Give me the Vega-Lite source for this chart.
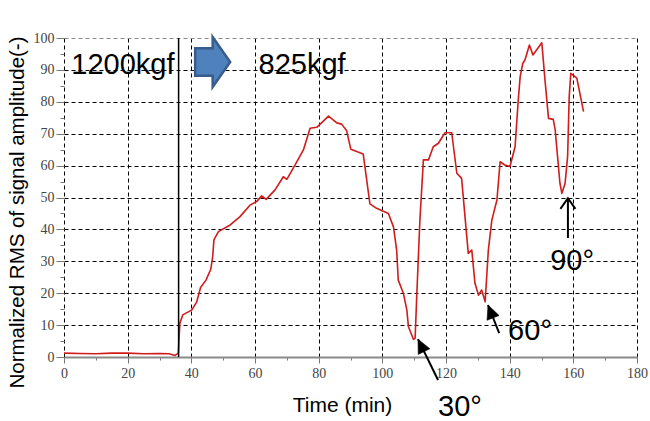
{
  "$schema": "https://vega.github.io/schema/vega-lite/v6.json",
  "width": 573,
  "height": 319,
  "autosize": {"type": "none"},
  "padding": {"left": 64, "top": 38, "right": 13, "bottom": 64},
  "background": "white",
  "config": {
    "view": {"stroke": null},
    "font": "Liberation Sans"
  },
  "datasets": {
    "rms": [
      {"t": 0, "v": 1.2}, {"t": 5, "v": 1.1}, {"t": 10, "v": 1.0}, {"t": 15, "v": 1.2},
      {"t": 20, "v": 1.2}, {"t": 25, "v": 1.0}, {"t": 30, "v": 1.1}, {"t": 33, "v": 1.0},
      {"t": 34.9, "v": 0.5}, {"t": 35.9, "v": 1.2}, {"t": 36.4, "v": 10.6}, {"t": 37.3, "v": 13.2},
      {"t": 40.1, "v": 14.7}, {"t": 41.7, "v": 17.3}, {"t": 42.9, "v": 21.8}, {"t": 44.6, "v": 24.1},
      {"t": 46.1, "v": 27.5}, {"t": 46.7, "v": 31.4}, {"t": 47.1, "v": 36.7}, {"t": 48.5, "v": 39.3},
      {"t": 52.2, "v": 41.4}, {"t": 55.3, "v": 44}, {"t": 58.4, "v": 47.6}, {"t": 60.5, "v": 48.7},
      {"t": 62.1, "v": 50.5}, {"t": 63.5, "v": 49.4}, {"t": 66.3, "v": 52.4}, {"t": 68.9, "v": 56.5},
      {"t": 70, "v": 55.7}, {"t": 72.6, "v": 60.2}, {"t": 75.2, "v": 64.9}, {"t": 77.3, "v": 71.7},
      {"t": 79.4, "v": 72}, {"t": 83.1, "v": 75.5}, {"t": 85.7, "v": 73.4}, {"t": 87.2, "v": 73},
      {"t": 88.8, "v": 70.9}, {"t": 90.1, "v": 65.1}, {"t": 94, "v": 63.6}, {"t": 96.1, "v": 48},
      {"t": 98.2, "v": 46.6}, {"t": 101.9, "v": 45}, {"t": 103.5, "v": 40.8}, {"t": 104.5, "v": 33.5},
      {"t": 105, "v": 24.1}, {"t": 106.6, "v": 20}, {"t": 107.7, "v": 14.7}, {"t": 108.2, "v": 9.5},
      {"t": 109.8, "v": 5.5}, {"t": 110.3, "v": 5.9}, {"t": 110.8, "v": 18.9}, {"t": 111.8, "v": 42.9},
      {"t": 112.9, "v": 61.8}, {"t": 114.5, "v": 61.8}, {"t": 116, "v": 65.9}, {"t": 117.6, "v": 67},
      {"t": 119.7, "v": 70.3}, {"t": 121.8, "v": 70.3}, {"t": 123.4, "v": 57.6}, {"t": 124.9, "v": 56},
      {"t": 127, "v": 32.5}, {"t": 128.1, "v": 33.5}, {"t": 129.1, "v": 23.1}, {"t": 130.2, "v": 19.4},
      {"t": 131.2, "v": 21}, {"t": 132.3, "v": 17.3}, {"t": 133.3, "v": 33.5}, {"t": 134.4, "v": 42.9},
      {"t": 136, "v": 49.2}, {"t": 137, "v": 61.2}, {"t": 138.5, "v": 60.2}, {"t": 140.1, "v": 59.7},
      {"t": 141.7, "v": 65.9}, {"t": 142.7, "v": 80.6}, {"t": 143.3, "v": 87.9}, {"t": 144.1, "v": 92},
      {"t": 144.8, "v": 93.1}, {"t": 146.2, "v": 97.8}, {"t": 147.3, "v": 94.7}, {"t": 150.1, "v": 98.5},
      {"t": 151.1, "v": 86.8}, {"t": 152.2, "v": 74.8}, {"t": 153.7, "v": 74.5}, {"t": 154.3, "v": 71.2},
      {"t": 155.8, "v": 54.4}, {"t": 156.4, "v": 51.3}, {"t": 157.4, "v": 54.4}, {"t": 158.2, "v": 62.8},
      {"t": 158.7, "v": 81.6}, {"t": 159.2, "v": 88.9}, {"t": 161.1, "v": 87.4}, {"t": 163.2, "v": 76.9}
    ],
    "loadChange": [{"t": 36, "v": 0, "v2": 100}],
    "loadLabels": [
      {"t": 18.5, "v": 91.6, "label": "1200kgf"},
      {"t": 74.8, "v": 91.6, "label": "825kgf"}
    ],
    "loadArrow": [{"t": 46.7, "v": 92.5}],
    "angleArrows": [
      {"angle": "30°", "t": 117.5, "v": -7.2, "t2": 111.2, "v2": 5.6, "dir": 334, "tl": 124.4, "vl": -15.6},
      {"angle": "60°", "t": 136.7, "v": 7.5, "t2": 133.2, "v2": 16.3, "dir": 338.6, "tl": 146.4, "vl": 8.1},
      {"angle": "90°", "t": 158.3, "v": 37.3, "t2": 158.3, "v2": 49.8, "dir": 0, "tl": 159.6, "vl": 30.1}
    ]
  },
  "layer": [
    {
      "data": {"name": "rms"},
      "mark": {"type": "line", "color": "#d01c1c", "strokeWidth": 1.6, "strokeJoin": "round"},
      "encoding": {
        "x": {
          "field": "t", "type": "quantitative",
          "scale": {"domain": [0, 180], "nice": false, "zero": false},
          "axis": {
            "title": "Time (min)",
            "titleFont": "Liberation Sans", "titleFontSize": 21, "titleFontWeight": "normal", "titleColor": "#000",
            "titlePadding": 14, "titleX": 278,
            "values": [0, 10, 20, 30, 40, 50, 60, 70, 80, 90, 100, 110, 120, 130, 140, 150, 160, 170, 180],
            "tickCount": 100,
            "labelExpr": "datum.value % 20 === 0 ? datum.label : ''",
            "labelOverlap": false,
            "labelFont": "Liberation Serif", "labelFontSize": 14, "labelColor": "#444", "labelPadding": 3,
            "labelFlush": false,
            "domain": true, "domainColor": "#8a8a8a", "domainWidth": 2,
            "ticks": true, "tickColor": "#777",
            "tickSize": {"condition": {"test": "datum.value % 20 === 0", "value": 6}, "value": 3},
            "grid": true, "gridColor": "#000", "gridDash": [4, 3], "gridWidth": 1,
            "gridOpacity": {"condition": {"test": "datum.value % 20 === 0", "value": 1}, "value": 0}
          }
        },
        "y": {
          "field": "v", "type": "quantitative",
          "scale": {"domain": [0, 100], "nice": false},
          "axis": {
            "title": "Normalized RMS of signal amplitude(-)",
            "titleFont": "Liberation Sans", "titleFontSize": 20.5, "titleFontWeight": "normal", "titleColor": "#000",
            "titlePadding": 6, "titleY": 174,
            "values": [0, 5, 10, 15, 20, 25, 30, 35, 40, 45, 50, 55, 60, 65, 70, 75, 80, 85, 90, 95, 100],
            "tickCount": 100,
            "labelExpr": "datum.value % 10 === 0 ? datum.label : ''",
            "labelOverlap": false,
            "labelFont": "Liberation Serif", "labelFontSize": 14, "labelColor": "#444", "labelPadding": 2,
            "labelFlush": false,
            "domain": false,
            "ticks": true, "tickColor": "#777",
            "tickSize": {"condition": {"test": "datum.value % 10 === 0", "value": 8}, "value": 4},
            "grid": true, "gridDash": [4, 3], "gridWidth": 1,
            "gridColor": {"condition": {"test": "datum.value === 100", "value": "#888"}, "value": "#000"},
            "gridOpacity": {"condition": {"test": "datum.value % 10 === 0", "value": 1}, "value": 0}
          }
        }
      }
    },
    {
      "data": {"name": "loadChange"},
      "mark": {"type": "rule", "color": "#000", "strokeWidth": 1.5},
      "encoding": {
        "x": {"field": "t", "type": "quantitative"},
        "y": {"field": "v", "type": "quantitative"},
        "y2": {"field": "v2"}
      }
    },
    {
      "data": {"name": "loadLabels"},
      "mark": {"type": "text", "font": "Liberation Sans", "fontSize": 29, "color": "#000", "align": "center", "baseline": "middle"},
      "encoding": {
        "x": {"field": "t", "type": "quantitative"},
        "y": {"field": "v", "type": "quantitative"},
        "text": {"field": "label"}
      }
    },
    {
      "data": {"name": "loadArrow"},
      "mark": {
        "type": "point", "filled": true, "opacity": 1,
        "shape": "M-0.7,-0.55 L0,-0.55 L0,-1 L0.7,0 L0,1 L0,0.55 L-0.7,0.55 Z",
        "size": 2500, "fill": "#4f81bd", "stroke": "#385d8a", "strokeWidth": 2.5
      },
      "encoding": {
        "x": {"field": "t", "type": "quantitative"},
        "y": {"field": "v", "type": "quantitative"}
      }
    },
    {
      "data": {"name": "angleArrows"},
      "mark": {"type": "rule", "color": "#000", "strokeWidth": 2, "clip": false},
      "encoding": {
        "x": {"field": "t", "type": "quantitative"},
        "y": {"field": "v", "type": "quantitative"},
        "x2": {"field": "t2"},
        "y2": {"field": "v2"}
      }
    },
    {
      "data": {"name": "angleArrows"},
      "transform": [{"filter": "datum.angle !== '90°'"}],
      "mark": {
        "type": "point", "filled": true, "opacity": 1,
        "shape": "M0,0 L0.75,1.6 L-0.75,1.6 Z",
        "size": 300, "fill": "#000", "stroke": "#000", "strokeWidth": 0.5
      },
      "encoding": {
        "x": {"field": "t2", "type": "quantitative"},
        "y": {"field": "v2", "type": "quantitative"},
        "angle": {"field": "dir", "type": "quantitative", "scale": null}
      }
    },
    {
      "data": {"name": "angleArrows"},
      "transform": [{"filter": "datum.angle === '90°'"}],
      "mark": {
        "type": "point", "filled": false, "opacity": 1,
        "shape": "M-0.7,1 L0,0 L0.7,1",
        "size": 460, "stroke": "#000", "strokeWidth": 2
      },
      "encoding": {
        "x": {"field": "t2", "type": "quantitative"},
        "y": {"field": "v2", "type": "quantitative"}
      }
    },
    {
      "data": {"name": "angleArrows"},
      "mark": {"type": "text", "font": "Liberation Sans", "fontSize": 29, "color": "#000", "align": "center", "baseline": "middle"},
      "encoding": {
        "x": {"field": "tl", "type": "quantitative"},
        "y": {"field": "vl", "type": "quantitative"},
        "text": {"field": "angle"}
      }
    }
  ]
}
